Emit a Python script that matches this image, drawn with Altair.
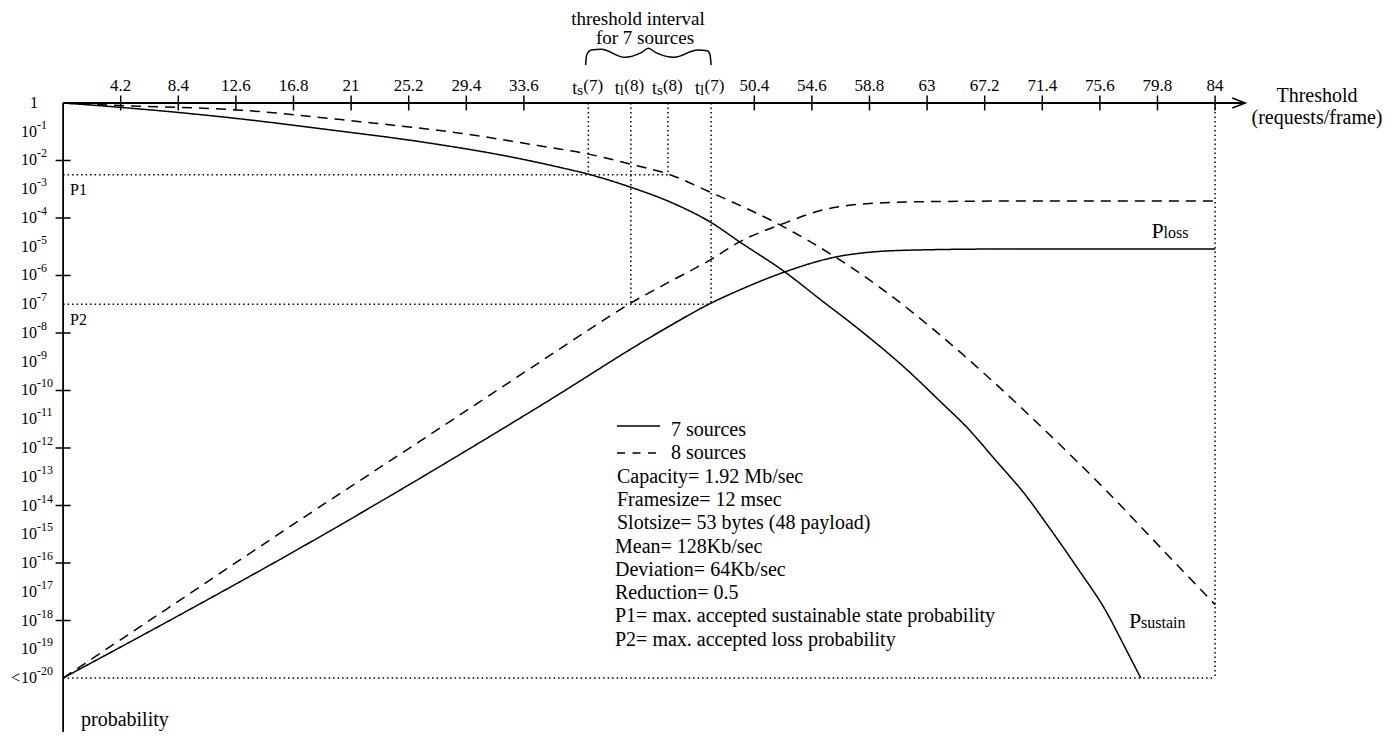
import altair as alt
import pandas as pd

FONT = "Liberation Serif"

# ---------------- data ----------------
x_tick_values = [4.2, 8.4, 12.6, 16.8, 21, 25.2, 29.4, 33.6, 50.4, 54.6, 58.8, 63, 67.2, 71.4, 75.6, 79.8, 84]
x_tick_labels = ["4.2", "8.4", "12.6", "16.8", "21", "25.2", "29.4", "33.6", "50.4", "54.6",
                 "58.8", "63", "67.2", "71.4", "75.6", "79.8", "84"]
decade_exponents = list(range(1, 21))          # labels 10^-1 ... 10^-20
major_tick_exponents = [2, 4, 6, 8, 10, 12, 14, 16, 18]

threshold_x = [38.3, 41.4, 44.1, 47.25]        # ts(7), tl(8), ts(8), tl(7)
threshold_sub = ["s", "l", "s", "l"]
threshold_n = ["(7)", "(8)", "(8)", "(7)"]
threshold_limit = ["P1", "P2", "P1", "P2"]

P1 = 10 ** -2.5
P2 = 1e-7
P_MIN = 1e-20
X_END = 84

psustain7_x = [0, 4.15, 11.93, 19.22, 26.51, 32.59, 36.23, 38.25, 41.39, 44.49, 47.26, 49.36,
               52.64, 55.2, 57.87, 61.56, 64.0, 66.0, 68.0, 70.0, 72.0, 74.0, 76.0, 77.5, 78.58]
psustain7_log = [0, -0.15, -0.5, -0.92, -1.38, -1.87, -2.24, -2.47, -2.93, -3.49, -4.16, -4.84,
                 -5.88, -6.83, -7.81, -9.29, -10.4, -11.33, -12.43, -13.53, -14.83, -16.2, -17.64, -19.0, -20.0]

psustain8_x = [0, 4.15, 12.66, 21.65, 28.94, 35.14, 38.25, 41.39, 44.11, 47.27, 52.27, 56.29,
               60.0, 64.0, 68.0, 72.0, 76.0, 80.0, 84]
psustain8_log = [0, -0.09, -0.24, -0.65, -1.05, -1.52, -1.77, -2.13, -2.47, -3.12, -4.24, -5.35,
                 -6.57, -8.09, -9.77, -11.57, -13.45, -15.45, -17.45]

ploss7_x = [0, 8.74, 17.28, 26.0, 34.8, 43.75, 47.25, 49.35, 52.6, 56.3, 59.05, 62.5, 68.3, 84]
ploss7_log = [-20, -17.745, -15.48, -13.06, -10.53, -7.89, -6.96, -6.5, -5.88, -5.36, -5.18, -5.11, -5.08, -5.08]

ploss8_x = [0, 7.55, 17.28, 26.0, 34.8, 38.3, 41.39, 44.1, 47.25, 49.36, 52.27, 55.41, 59.05, 63.2, 70, 84]
ploss8_log = [-20, -17.6, -14.5, -11.77, -9.0, -7.9, -6.96, -6.25, -5.44, -4.82, -4.24, -3.72, -3.49, -3.43, -3.41, -3.41]

legend_lines = [
    "Capacity= 1.92 Mb/sec",
    "Framesize= 12 msec",
    "Slotsize= 53 bytes (48 payload)",
    "Mean= 128Kb/sec",
    "Deviation= 64Kb/sec",
    "Reduction= 0.5",
    "P1= max. accepted sustainable state probability",
    "P2= max. accepted loss probability",
]

# ---------------- layout ----------------
W, H = 1384, 724
X_DOMAIN = [-4.018, 96.90]
LOG_TOP, LOG_BOTTOM = 3.304, -21.878
Y_DOMAIN = [10 ** LOG_BOTTOM, 10 ** LOG_TOP]
PX_PER_DECADE = H / (LOG_TOP - LOG_BOTTOM)
AXIS_END = 86.2

xs = alt.Scale(domain=X_DOMAIN, nice=False, zero=False)
ys = alt.Scale(type="log", domain=Y_DOMAIN, nice=False)


def X(f):
    return alt.X(f, type="quantitative", scale=xs, axis=None)


def Y(f):
    return alt.Y(f, type="quantitative", scale=ys, axis=None)


def txt(**kw):
    base = dict(font=FONT, color="black")
    base.update(kw)
    return base


# ---------------- curves ----------------
rows = []
for name, xv, lv, dash in [("psustain7", psustain7_x, psustain7_log, "solid"),
                           ("psustain8", psustain8_x, psustain8_log, "dashed"),
                           ("ploss7", ploss7_x, ploss7_log, "solid"),
                           ("ploss8", ploss8_x, ploss8_log, "dashed")]:
    for a, b in zip(xv, lv):
        rows.append({"x": a, "p": 10 ** b, "curve": name, "dash": dash})
curves_df = pd.DataFrame(rows)

curves = alt.Chart(curves_df).mark_line(color="black", strokeWidth=1.5, interpolate="monotone").encode(
    x=X("x"), y=Y("p"), detail="curve:N",
    strokeDash=alt.StrokeDash("dash:N", scale=alt.Scale(domain=["solid", "dashed"], range=[[1, 0], [10, 7]]),
                              legend=None),
)

# ---------------- axes ----------------
axis_df = pd.DataFrame([
    {"x": 0, "x2": AXIS_END, "y": 1, "y2": 1},
    {"x": 0, "x2": 0, "y": 1, "y2": Y_DOMAIN[0]},
])
axes = alt.Chart(axis_df).mark_rule(color="black", strokeWidth=1.8).encode(
    x=X("x"), x2="x2:Q", y=Y("y"), y2="y2:Q")

arrow = alt.Chart(pd.DataFrame({"x": [AXIS_END], "y": [1]})).mark_point(
    shape="M-1,-0.38L0,0L-1,0.38", size=676, filled=False, stroke="black", strokeWidth=1.5, opacity=1
).encode(x=X("x"), y=Y("y"))

xticks = alt.Chart(pd.DataFrame({"x": x_tick_values, "y": 1})).mark_tick(
    orient="vertical", size=15, thickness=1.5, color="black", opacity=1).encode(x=X("x"), y=Y("y"))

yticks = alt.Chart(pd.DataFrame({"x": 0, "y": [10.0 ** -k for k in major_tick_exponents]})).mark_tick(
    orient="horizontal", size=15, thickness=1.5, color="black", opacity=1).encode(x=X("x"), y=Y("y"))

# ---------------- dotted guide lines ----------------
lim = {"P1": P1, "P2": P2}
dot_rows = [
    {"x": 0, "x2": threshold_x[2], "y": P1, "y2": P1},
    {"x": 0, "x2": threshold_x[3], "y": P2, "y2": P2},
    {"x": 0, "x2": X_END, "y": P_MIN, "y2": P_MIN},
    {"x": X_END, "x2": X_END, "y": 1, "y2": P_MIN},
]
for tx, lm in zip(threshold_x, threshold_limit):
    dot_rows.append({"x": tx, "x2": tx, "y": 1, "y2": lim[lm]})
dotted = alt.Chart(pd.DataFrame(dot_rows)).mark_rule(
    color="black", strokeWidth=1.5, strokeDash=[1.5, 3]).encode(x=X("x"), x2="x2:Q", y=Y("y"), y2="y2:Q")

# ---------------- brace over threshold interval ----------------
brace_shape = [(0, 38), (0.008, 48), (0.045, 53), (0.125, 53.7), (0.31, 45.7), (0.443, 50.3), (0.5, 54.7),
               (0.56, 50.3), (0.706, 45.7), (0.892, 53), (0.971, 52.3), (0.992, 48), (1, 38)]
b0, b1 = threshold_x[0] - 0.2, threshold_x[3]
brace_df = pd.DataFrame([{"x": b0 + f * (b1 - b0), "p": 10 ** (h / PX_PER_DECADE), "i": i}
                         for i, (f, h) in enumerate(brace_shape)])
brace = alt.Chart(brace_df).mark_line(color="black", strokeWidth=1.5, interpolate="monotone").encode(
    x=X("x"), y=Y("p"), order="i:Q")

# ---------------- tick labels ----------------
xlab = alt.Chart(pd.DataFrame({"x": x_tick_values, "t": x_tick_labels})).mark_text(
    **txt(align="center", baseline="alphabetic", fontSize=17)).encode(x=X("x"), y=alt.value(83), text="t:N")

spec_df = pd.DataFrame({"x": threshold_x, "sub": threshold_sub, "n": threshold_n, "t": "t"})
spec_t = alt.Chart(spec_df).mark_text(**txt(align="left", baseline="alphabetic", fontSize=18, dx=-16)).encode(
    x=X("x"), y=alt.value(86), text="t:N")
spec_sub = alt.Chart(spec_df).mark_text(**txt(align="left", baseline="alphabetic", fontSize=15, dx=-11)).encode(
    x=X("x"), y=alt.value(87), text="sub:N")
spec_n_s = alt.Chart(spec_df).transform_filter(alt.datum.sub == "s").mark_text(
    **txt(align="left", baseline="alphabetic", fontSize=17, dx=-5)).encode(
    x=X("x"), y=alt.value(83), text="n:N")
spec_n_l = alt.Chart(spec_df).transform_filter(alt.datum.sub == "l").mark_text(
    **txt(align="left", baseline="alphabetic", fontSize=17, dx=-6.5)).encode(
    x=X("x"), y=alt.value(83), text="n:N")

dec_df = pd.DataFrame({"p": [10.0 ** -k for k in decade_exponents], "b": "10",
                       "e": [f"-{k}" for k in decade_exponents]})
ylab_base = alt.Chart(dec_df).mark_text(**txt(align="left", baseline="middle", fontSize=16)).encode(
    x=alt.value(13), y=Y("p"), text="b:N")
ylab_exp = alt.Chart(dec_df).mark_text(**txt(align="left", baseline="middle", fontSize=12, dy=-7)).encode(
    x=alt.value(29), y=Y("p"), text="e:N")
ylab_one = alt.Chart(pd.DataFrame({"p": [1.0], "t": ["1"]})).mark_text(
    **txt(align="center", baseline="middle", fontSize=16)).encode(x=alt.value(26), y=Y("p"), text="t:N")
ylab_lt = alt.Chart(pd.DataFrame({"p": [P_MIN], "t": ["<"]})).mark_text(
    **txt(align="right", baseline="middle", fontSize=16)).encode(x=alt.value(12), y=Y("p"), text="t:N")


def label(text, x, y, size, align="left", baseline="middle"):
    return alt.Chart(pd.DataFrame({"t": [text]})).mark_text(
        **txt(align=align, baseline=baseline, fontSize=size)).encode(
        x=alt.value(x), y=alt.value(y), text="t:N")


annotations = [
    label("Threshold", 1309, 88, 20, align="center"),
    label("(requests/frame)", 1309, 110, 20, align="center"),
    label("threshold interval", 630, 11, 19, align="center"),
    label("for 7 sources", 637, 29.5, 19, align="center"),
    label("probability", 73, 718, 20, baseline="alphabetic"),
    label("P1", 62, 182, 16),
    label("P2", 62, 312, 16),
    label("P", 1143.5, 230, 22, baseline="alphabetic"),
    label("loss", 1155.5, 230, 16, baseline="alphabetic"),
    label("P", 1121, 620, 22, baseline="alphabetic"),
    label("sustain", 1133, 620, 16, baseline="alphabetic"),
    label("7 sources", 663, 422, 20),
    label("8 sources", 663, 445.3, 20),
]
for i, line in enumerate(legend_lines):
    annotations.append(label(line, 609 if i < 3 else 607, 422 + (i + 2) * 23.3, 20))

legend_solid = alt.Chart(pd.DataFrame({"k": [0]})).mark_rule(color="black", strokeWidth=1.5).encode(
    x=alt.value(609), x2=alt.value(652), y=alt.value(418))
legend_dashed = alt.Chart(pd.DataFrame({"k": [0]})).mark_rule(
    color="black", strokeWidth=1.5, strokeDash=[8, 7.5]).encode(
    x=alt.value(609), x2=alt.value(652), y=alt.value(445))

chart = alt.layer(
    dotted, curves, axes, arrow, xticks, yticks, brace,
    xlab, spec_t, spec_sub, spec_n_s, spec_n_l, ylab_base, ylab_exp, ylab_one, ylab_lt,
    legend_solid, legend_dashed, *annotations,
).properties(
    width=W, height=H, autosize=alt.AutoSizeParams(type="none"), padding=0, background="white"
).configure_view(stroke=None)

chart.save("out.html", embed_options={"renderer": "svg", "actions": False})
